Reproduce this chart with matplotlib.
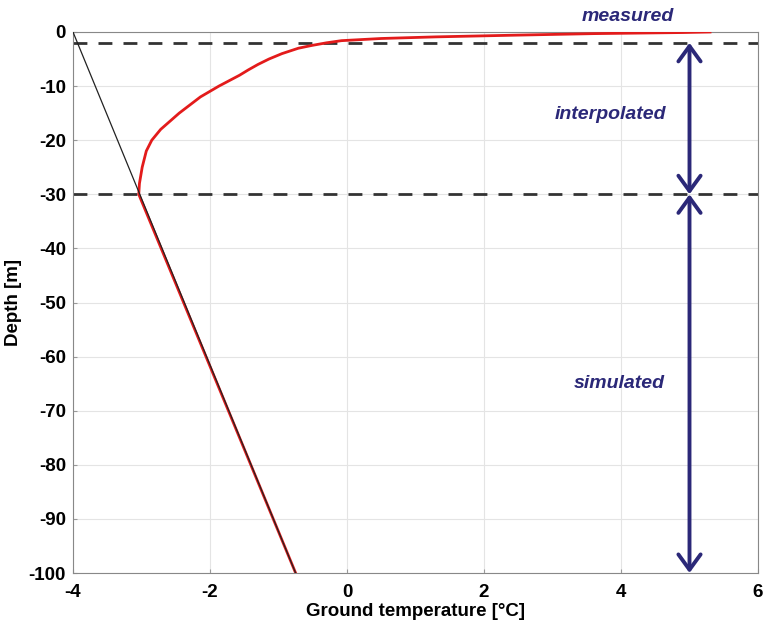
import matplotlib.pyplot as plt
from matplotlib.patches import FancyArrowPatch

# ---- Data
# measured + interpolated + simulated ground temperature profile
depth = [0, -0.1, -0.3, -0.6, -0.9, -1.2, -1.6, -2, -2.5, -3, -4, -5, -6, -7,
         -8, -10, -12, -15, -18, -20, -22, -25, -28, -30, -100]
temp = [5.3, 4.9, 3.6, 2.4, 1.3, 0.5, -0.08, -0.3, -0.52, -0.71, -0.95, -1.14,
        -1.3, -1.44, -1.57, -1.87, -2.14, -2.45, -2.72, -2.85, -2.93, -2.99,
        -3.03, -3.04, -0.75]

# linear geothermal gradient (thin black line)
grad_depth = [0, -100]
grad_temp = [-4, -0.75]

# section boundaries and labels
bounds = [-2, -30]
arrow_x = 5
sections = ['measured', 'interpolated', 'simulated']
section_pos = [(4.1, 2.9), (3.85, -15.3), (3.98, -65.0)]

navy = '#2b2878'
plt.rcParams['font.family'] = ['Liberation Sans', 'DejaVu Sans']
plt.rcParams['font.weight'] = 'bold'
plt.rcParams['axes.unicode_minus'] = False

fig = plt.figure(figsize=(7.65, 6.27), dpi=100)
ax = fig.add_axes([73 / 765, 1 - 573 / 627, 685 / 765, 541 / 627])

ax.plot(temp, depth, color='#e31b1b', lw=2, zorder=3)
ax.plot(grad_temp, grad_depth, color='#222222', lw=0.9, zorder=4)

for b in bounds:
    ax.axhline(b, color='#333333', lw=2, dashes=(5, 4), zorder=2)

# Arrows
for y0, y1 in [(bounds[0], bounds[1]), (bounds[1], -100)]:
    arr = FancyArrowPatch((arrow_x, y0), (arrow_x, y1), arrowstyle='<->,head_length=11,head_width=8',
                          color=navy, lw=2.8, shrinkA=0, shrinkB=0, zorder=5, clip_on=False)
    ax.add_patch(arr)

for label, (tx, ty) in zip(sections, section_pos):
    ax.text(tx, ty, label, color=navy, fontsize=14, fontweight='bold', style='italic',
            ha='center', va='center', clip_on=False)

# Plot Configuration
ax.set_xlim(-4, 6)
ax.set_ylim(-100, 0)
ax.set_xticks(range(-4, 7, 2))
ax.set_yticks(range(-100, 1, 10))
ax.grid(True, color='#e4e4e4', lw=0.8)
ax.set_axisbelow(True)
ax.tick_params(labelsize=13.5, length=3, direction='in', color='#999999')
ax.tick_params(axis='x', pad=8)
ax.tick_params(axis='y', pad=5)
for s in ax.spines.values():
    s.set_color('#888888')
ax.set_xlabel('Ground temperature [°C]', fontsize=13.5, fontweight='bold', labelpad=1)
ax.set_ylabel('Depth [m]', fontsize=13.5, fontweight='bold')
ax.yaxis.set_label_coords(-51 / 685, 0.5)

plt.savefig('out.png', dpi=100)
